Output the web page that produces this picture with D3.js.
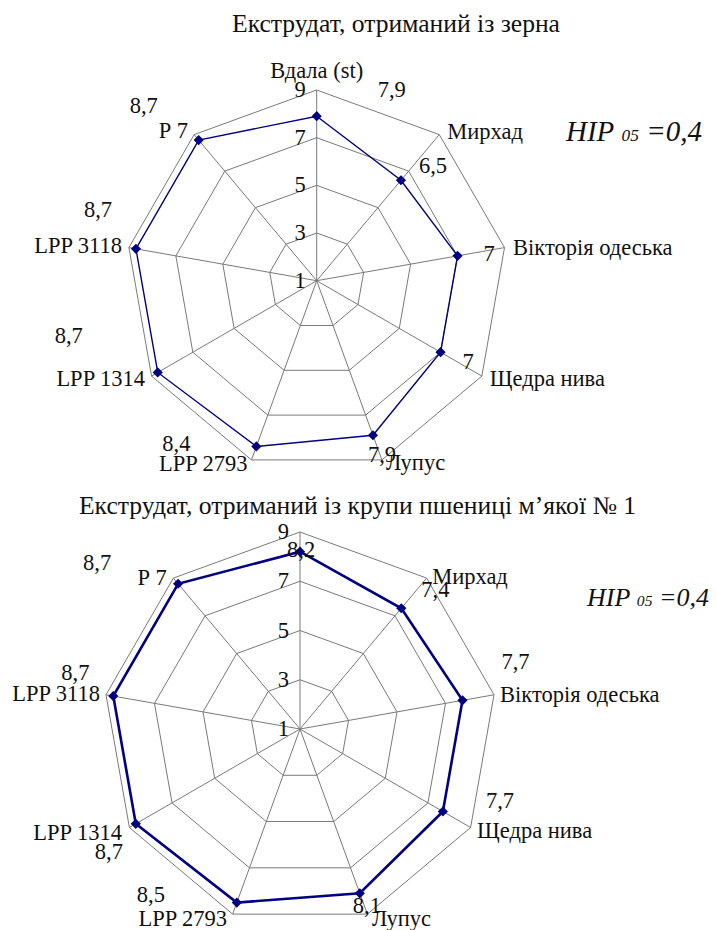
<!DOCTYPE html>
<html>
<head>
<meta charset="utf-8">
<script src="https://cdn.jsdelivr.net/npm/d3@7"></script>
<style>
  body { margin: 0; background: #fff; }
</style>
</head>
<body>
<svg id="chart" width="716" height="930"></svg>
<script>

const categories = ["Вдала (st)", "Мирхад", "Вікторія одеська", "Щедра нива", "Лупус", "LPP 2793", "LPP 1314", "LPP 3118", "Р 7"];
const grainValues = [7.9, 6.5, 7, 7, 7.9, 8.4, 8.7, 8.7, 8.7];
const groatsValues = [8.2, 7.4, 7.7, 7.7, 8.1, 8.5, 8.7, 8.7, 8.7];
const tickValues = [1, 3, 5, 7, 9];
const titles = ["Екструдат, отриманий із зерна", "Екструдат, отриманий із крупи пшениці м’якої № 1"];
const lsdText = ["НІР", "05", "=0,4"];

const width = 716, height = 930;
const svg = d3.select("#chart");
svg.append("rect").attr("width", width).attr("height", height).attr("fill", "#fff");

const navy = "#000080";
const gridColor = "#7a7a7a";
const labelSize = 22.5;
const serif = "Liberation Serif";

// layout of each radar: centre, radius, where the labels sit (manual, like in Excel)
const charts = [
  {
    values: grainValues, title: titles[0], cx: 316.7, cy: 280.7, R: 190.7,
    titleX: 396, titleY: 32, lineW: 1.4,
    lsdX: 566, lsdY: 141, lsdSize: 29,
    // category label offsets from outer vertex [dx, dy, anchor]
    cat: [[0, -12, "middle"], [8, 4, "start"], [8.5, 7.5, "start"], [8, 10, "start"], [4, 10, "start"],
          [-4, 11, "end"], [-6.6, 10, "end"], [-7, 5, "end"], [-6, 3.5, "end"]],
    // value label offsets from the data point (start anchor)
    val: [[61, -19], [18, -7], [26, 5], [22, 17], [-5, 27], [-94, 5], [-103, -29], [-52, -32], [-69, -27]]
  },
  {
    values: groatsValues, title: titles[1], cx: 300, cy: 729, R: 197,
    titleX: 357.5, titleY: 514, lineW: 2.6,
    lsdX: 587, lsdY: 606, lsdSize: 26,
    cat: [null, [5.5, 6, "start"], [6, 7, "start"], [6.5, 10.5, "start"], [4.5, 12, "start"],
          [-5.5, 12, "end"], [-7.5, 12.5, "end"], [-6, 6, "end"], [-6.5, 7, "end"]],
    val: [[-13, 5], [20, -11], [39, -31], [43, -3], [-7, 20], [-100, -1], [-41, 35], [-52, -16], [-95, -14]]
  }
];

const fmt = v => String(v).replace(".", ",");
const n = categories.length;

function label(sel, size) {
  return sel.attr("font-family", serif)
            .attr("font-size", size)
            .attr("fill", "#111");
}

charts.forEach(function(c) {

  const r = d3.scaleLinear().domain([1, 9]).range([0, c.R]);
  const angle = d3.scalePoint().domain(d3.range(n + 1)).range([0, 2 * Math.PI]);
  const px = (i, v) => c.cx + r(v) * Math.sin(angle(i));
  const py = (i, v) => c.cy - r(v) * Math.cos(angle(i));

  const g = svg.append("g");

  // rings
  const ringLine = d3.line();
  g.selectAll(".ring")
    .data(tickValues.filter(t => t > 1))
    .enter().append("path")
    .attr("d", t => ringLine(d3.range(n).map(i => [px(i, t), py(i, t)])) + "Z")
    .attr("fill", "none")
    .attr("stroke", gridColor)
    .attr("stroke-width", 1);

  // spokes
  g.selectAll(".spoke")
    .data(d3.range(n))
    .enter().append("line")
    .attr("x1", c.cx).attr("y1", c.cy)
    .attr("x2", i => px(i, 9)).attr("y2", i => py(i, 9))
    .attr("stroke", gridColor)
    .attr("stroke-width", 1);

  // series line
  g.append("path")
    .attr("d", d3.line()(c.values.map((v, i) => [px(i, v), py(i, v)])) + "Z")
    .attr("fill", "none")
    .attr("stroke", navy)
    .attr("stroke-width", c.lineW);

  // markers
  g.selectAll(".marker")
    .data(c.values)
    .enter().append("path")
    .attr("d", d3.symbol().type(d3.symbolSquare).size(52))
    .attr("transform", (v, i) => `translate(${px(i, v)},${py(i, v)}) rotate(45)`)
    .attr("fill", navy);

  // title
  g.append("text")
    .attr("x", c.titleX).attr("y", c.titleY)
    .attr("text-anchor", "middle")
    .call(label, 25.6)
    .text(c.title);

  // tick labels along the top axis
  g.selectAll(".tick")
    .data(tickValues)
    .enter().append("text")
    .attr("x", c.cx - 11)
    .attr("y", t => c.cy - r(t) + 7)
    .attr("text-anchor", "end")
    .call(label, labelSize)
    .text(d => d);

  // category labels
  g.selectAll(".cat")
    .data(categories.map((name, i) => ({ name, i, o: c.cat[i] })).filter(d => d.o))
    .enter().append("text")
    .attr("x", d => px(d.i, 9) + d.o[0])
    .attr("y", d => py(d.i, 9) + d.o[1])
    .attr("text-anchor", d => d.o[2])
    .call(label, labelSize)
    .text(d => d.name);

  // value labels
  g.selectAll(".val")
    .data(c.values)
    .enter().append("text")
    .attr("x", (v, i) => px(i, v) + c.val[i][0])
    .attr("y", (v, i) => py(i, v) + c.val[i][1])
    .call(label, labelSize)
    .text(v => fmt(v));

  // LSD note
  const lsd = g.append("text")
    .attr("x", c.lsdX).attr("y", c.lsdY)
    .attr("font-style", "italic")
    .call(label, c.lsdSize);
  lsd.append("tspan").text(lsdText[0] + " ");
  lsd.append("tspan").attr("font-size", c.lsdSize * 0.6).text(lsdText[1]);
  lsd.append("tspan").text(" " + lsdText[2]);
});

</script>
</body>
</html>
